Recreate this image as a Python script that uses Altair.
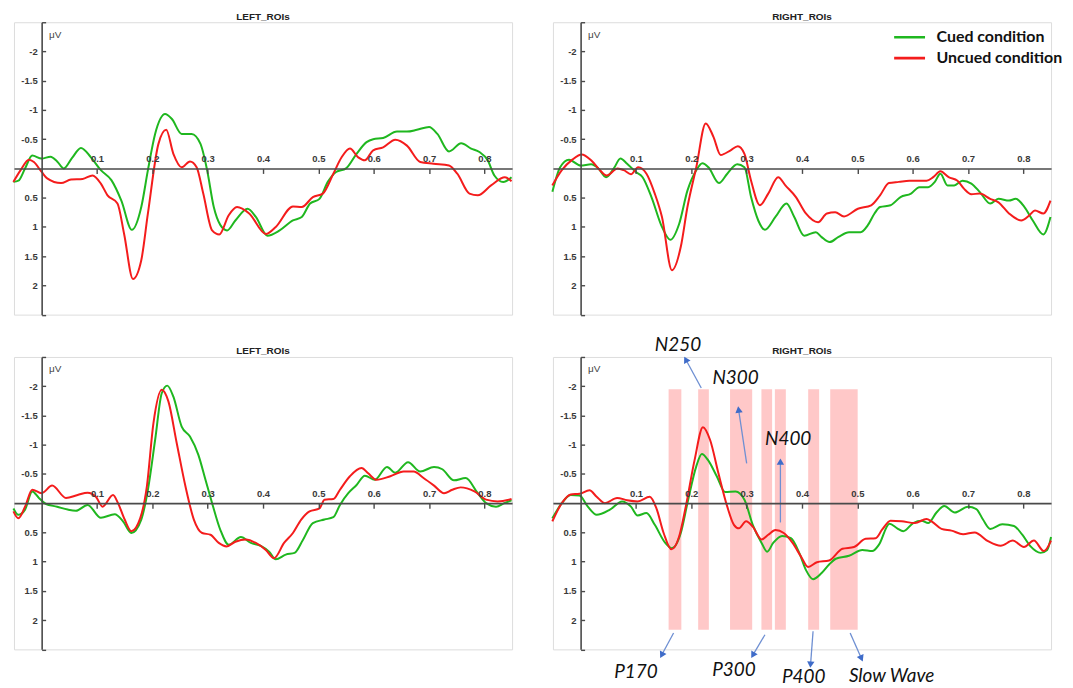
import math
import altair as alt
import pandas as pd

# ---------------------------------------------------------------- data
SERIES = ["Cued condition", "Uncued condition"]
SERIES_COLORS = ["#1FB71F", "#F41C1C"]

X_TICKS = [0.1, 0.2, 0.3, 0.4, 0.5, 0.6, 0.7, 0.8]
Y_TICKS = [-2.5, -2, -1.5, -1, -0.5, 0.5, 1, 1.5, 2, 2.5]
T_DOMAIN = [-0.05, 0.85]
V_DOMAIN = [-2.5, 2.5]

PANEL_TITLES = ["LEFT_ROIs", "RIGHT_ROIs", "LEFT_ROIs", "RIGHT_ROIs"]

# (time s, amplitude uV)
P1_CUED = [(-0.051, 0.23), (-0.042, 0.21), (-0.03, 0.0), (-0.017, -0.22), (0.0, -0.17),
           (0.016, -0.2), (0.028, -0.12), (0.04, 0.0), (0.055, -0.18), (0.071, -0.35),
           (0.089, -0.19), (0.107, 0.03), (0.126, 0.2), (0.144, 0.55), (0.163, 1.05),
           (0.18, 0.66), (0.192, 0.03), (0.205, -0.59), (0.223, -0.93), (0.235, -0.85),
           (0.253, -0.59), (0.271, -0.59), (0.287, -0.42), (0.299, 0.03), (0.311, 0.66),
           (0.323, 0.97), (0.335, 1.06), (0.35, 0.89), (0.372, 0.69), (0.387, 0.83),
           (0.408, 1.15), (0.43, 1.06), (0.454, 0.89), (0.47, 0.83), (0.485, 0.6),
           (0.502, 0.52), (0.517, 0.23), (0.532, 0.06), (0.55, 0.0), (0.569, -0.25),
           (0.587, -0.45), (0.599, -0.5), (0.617, -0.52), (0.642, -0.63), (0.66, -0.63),
           (0.678, -0.66), (0.7, -0.71), (0.715, -0.59), (0.736, -0.29), (0.758, -0.43),
           (0.776, -0.34), (0.791, -0.28), (0.806, -0.14), (0.818, 0.12), (0.834, 0.23),
           (0.849, 0.15)]
P1_UNCUED = [(-0.051, 0.23), (-0.038, 0.03), (-0.023, -0.15), (-0.014, -0.11), (0.0, 0.06),
             (0.01, 0.17), (0.035, 0.25), (0.053, 0.19), (0.074, 0.18), (0.092, 0.12),
             (0.107, 0.26), (0.119, 0.46), (0.137, 0.6), (0.149, 1.12), (0.165, 1.89),
             (0.18, 1.57), (0.192, 0.77), (0.211, -0.42), (0.225, -0.66), (0.238, -0.25),
             (0.253, -0.02), (0.268, -0.12), (0.28, -0.02), (0.292, 0.43), (0.308, 1.06),
             (0.321, 1.13), (0.338, 0.8), (0.353, 0.66), (0.375, 0.77), (0.405, 1.12),
             (0.423, 1.0), (0.454, 0.65), (0.47, 0.66), (0.49, 0.49), (0.508, 0.43),
             (0.527, 0.09), (0.542, -0.19), (0.557, -0.34), (0.572, -0.19), (0.584, -0.14),
             (0.599, -0.31), (0.617, -0.36), (0.639, -0.49), (0.66, -0.39), (0.684, -0.11),
             (0.708, -0.08), (0.736, -0.05), (0.751, 0.09), (0.773, 0.43), (0.788, 0.46),
             (0.812, 0.29), (0.837, 0.15), (0.849, 0.22)]

P2_CUED = [(-0.051, 0.40), (-0.037, -0.02), (-0.021, -0.15), (0.0, -0.05), (0.019, -0.07),
           (0.032, 0.0), (0.046, 0.15), (0.06, 0.0), (0.072, -0.17), (0.084, -0.08),
           (0.1, 0.06), (0.112, 0.15), (0.128, 0.49), (0.147, 1.0), (0.162, 1.22),
           (0.178, 0.95), (0.193, 0.38), (0.209, 0.03), (0.22, -0.09), (0.231, -0.02),
           (0.25, 0.25), (0.265, 0.09), (0.283, -0.07), (0.296, -0.02), (0.308, 0.49),
           (0.321, 0.89), (0.333, 1.05), (0.352, 0.83), (0.372, 0.6), (0.386, 0.83),
           (0.404, 1.15), (0.425, 1.09), (0.435, 1.17), (0.45, 1.26), (0.466, 1.17),
           (0.485, 1.09), (0.506, 1.09), (0.519, 0.97), (0.531, 0.77), (0.541, 0.66),
           (0.56, 0.63), (0.578, 0.49), (0.597, 0.43), (0.612, 0.32), (0.628, 0.32),
           (0.64, 0.23), (0.65, 0.09), (0.663, 0.29), (0.675, 0.29), (0.69, 0.21),
           (0.706, 0.26), (0.721, 0.4), (0.74, 0.6), (0.755, 0.52), (0.774, 0.55),
           (0.786, 0.52), (0.802, 0.66), (0.817, 0.89), (0.836, 1.13), (0.849, 0.83)]
P2_UNCUED = [(-0.051, 0.29), (-0.034, 0.03), (-0.015, -0.15), (0.002, -0.24), (0.019, -0.14),
             (0.035, 0.03), (0.047, 0.12), (0.067, 0.0), (0.078, 0.03), (0.091, 0.1),
             (0.104, -0.02), (0.119, 0.09), (0.134, 0.43), (0.147, 0.83), (0.165, 1.74),
             (0.181, 1.34), (0.193, 0.66), (0.209, -0.02), (0.226, -0.77), (0.24, -0.54),
             (0.253, -0.23), (0.271, -0.31), (0.284, -0.38), (0.296, -0.25), (0.308, 0.21),
             (0.324, 0.63), (0.339, 0.43), (0.357, 0.15), (0.37, 0.29), (0.389, 0.49),
             (0.407, 0.77), (0.429, 0.92), (0.445, 0.77), (0.46, 0.75), (0.476, 0.82),
             (0.501, 0.69), (0.525, 0.63), (0.541, 0.46), (0.557, 0.25), (0.575, 0.23),
             (0.594, 0.21), (0.625, 0.21), (0.637, 0.15), (0.65, 0.05), (0.665, 0.15),
             (0.681, 0.21), (0.693, 0.35), (0.706, 0.44), (0.721, 0.43), (0.74, 0.52),
             (0.755, 0.58), (0.774, 0.77), (0.796, 0.89), (0.811, 0.8), (0.821, 0.72),
             (0.836, 0.77), (0.849, 0.55)]

P3_CUED = [(-0.051, 0.09), (-0.042, 0.2), (-0.03, 0.11), (-0.017, -0.2), (-0.005, -0.09),
           (0.007, 0.01), (0.028, 0.06), (0.047, 0.11), (0.062, 0.13), (0.083, 0.03),
           (0.107, 0.25), (0.132, 0.19), (0.147, 0.31), (0.162, 0.51), (0.18, 0.28),
           (0.192, -0.23), (0.205, -1.08), (0.217, -1.88), (0.227, -2.01), (0.238, -1.82),
           (0.253, -1.31), (0.268, -1.14), (0.283, -0.83), (0.296, -0.4), (0.308, 0.0),
           (0.323, 0.46), (0.338, 0.71), (0.36, 0.58), (0.378, 0.68), (0.396, 0.73),
           (0.411, 0.83), (0.423, 0.96), (0.441, 0.88), (0.457, 0.85), (0.472, 0.63),
           (0.49, 0.34), (0.511, 0.28), (0.527, 0.24), (0.539, 0.03), (0.554, -0.17),
           (0.569, -0.31), (0.584, -0.47), (0.602, -0.4), (0.624, -0.62), (0.639, -0.52),
           (0.662, -0.7), (0.684, -0.54), (0.709, -0.62), (0.724, -0.58), (0.745, -0.39),
           (0.766, -0.43), (0.788, -0.17), (0.803, 0.0), (0.821, 0.06), (0.836, 0.0),
           (0.849, -0.05)]
P3_UNCUED = [(-0.051, 0.14), (-0.042, 0.26), (-0.03, 0.06), (-0.017, -0.23), (0.0, -0.17),
             (0.019, -0.3), (0.044, -0.09), (0.065, -0.14), (0.083, -0.18), (0.098, -0.11),
             (0.11, 0.06), (0.129, -0.14), (0.138, 0.0), (0.15, 0.28), (0.162, 0.48),
             (0.178, 0.26), (0.19, -0.28), (0.202, -1.37), (0.217, -1.94), (0.229, -1.74),
             (0.244, -1.03), (0.26, -0.28), (0.275, 0.28), (0.29, 0.51), (0.305, 0.54),
             (0.32, 0.68), (0.334, 0.74), (0.35, 0.66), (0.369, 0.62), (0.387, 0.68),
             (0.405, 0.8), (0.42, 0.94), (0.438, 0.68), (0.454, 0.51), (0.469, 0.28),
             (0.484, 0.14), (0.502, 0.09), (0.511, -0.06), (0.527, -0.07), (0.539, -0.23),
             (0.557, -0.46), (0.578, -0.6), (0.59, -0.51), (0.605, -0.4), (0.63, -0.46),
             (0.654, -0.54), (0.672, -0.54), (0.69, -0.43), (0.709, -0.3), (0.727, -0.17),
             (0.742, -0.23), (0.757, -0.27), (0.782, -0.2), (0.803, -0.06), (0.824, -0.03),
             (0.849, -0.07)]

P4_CUED = [(-0.051, 0.26), (-0.034, 0.0), (-0.018, -0.14), (-0.002, -0.13), (0.013, 0.06),
           (0.029, 0.2), (0.053, 0.11), (0.075, -0.03), (0.091, 0.06), (0.103, 0.21),
           (0.119, 0.17), (0.134, 0.37), (0.153, 0.68), (0.165, 0.77), (0.181, 0.51),
           (0.193, 0.0), (0.209, -0.63), (0.219, -0.84), (0.23, -0.74), (0.246, -0.46),
           (0.261, -0.19), (0.28, -0.2), (0.296, -0.06), (0.311, 0.37), (0.327, 0.68),
           (0.337, 0.83), (0.348, 0.68), (0.364, 0.56), (0.38, 0.6), (0.395, 0.85),
           (0.407, 1.14), (0.42, 1.3), (0.435, 1.2), (0.449, 1.05), (0.461, 0.95),
           (0.485, 0.90), (0.509, 0.80), (0.527, 0.82), (0.539, 0.71), (0.558, 0.35),
           (0.572, 0.43), (0.583, 0.48), (0.601, 0.34), (0.616, 0.30), (0.628, 0.34),
           (0.643, 0.16), (0.657, 0.05), (0.676, 0.16), (0.70, 0.06), (0.715, 0.10),
           (0.727, 0.28), (0.740, 0.44), (0.762, 0.36), (0.783, 0.39), (0.798, 0.54),
           (0.813, 0.74), (0.831, 0.85), (0.843, 0.80), (0.85, 0.58)]
P4_UNCUED = [(-0.051, 0.31), (-0.034, 0.0), (-0.018, -0.15), (-0.002, -0.16), (0.016, -0.22),
             (0.029, -0.11), (0.044, 0.0), (0.066, -0.09), (0.084, -0.05), (0.103, -0.03),
             (0.125, -0.11), (0.137, 0.09), (0.15, 0.51), (0.164, 0.79), (0.178, 0.57),
             (0.19, 0.06), (0.206, -0.74), (0.221, -1.3), (0.234, -1.08), (0.249, -0.51),
             (0.265, 0.06), (0.277, 0.37), (0.286, 0.43), (0.299, 0.31), (0.311, 0.4),
             (0.327, 0.62), (0.339, 0.54), (0.352, 0.46), (0.367, 0.51), (0.383, 0.68),
             (0.398, 0.91), (0.411, 1.09), (0.427, 1.01), (0.449, 0.98), (0.473, 0.78),
             (0.494, 0.75), (0.515, 0.61), (0.533, 0.60), (0.545, 0.45), (0.56, 0.30),
             (0.58, 0.31), (0.604, 0.34), (0.625, 0.27), (0.634, 0.31), (0.652, 0.44),
             (0.67, 0.47), (0.691, 0.53), (0.712, 0.50), (0.736, 0.65), (0.759, 0.73),
             (0.781, 0.64), (0.801, 0.75), (0.819, 0.64), (0.837, 0.82), (0.85, 0.64)]

# analysis windows in the bottom-right panel (s)
WIN_START = [0.159, 0.2124, 0.270, 0.3267, 0.351, 0.4112, 0.451]
WIN_END = [0.182, 0.2317, 0.310, 0.346, 0.3708, 0.431, 0.5006]
WIN_V = [-1.95, 2.165]

# component labels and their arrows (data coordinates)
COMP_LABELS = ["N250", "N300", "N400", "P170", "P300", "P400", "Slow Wave"]
COMP_T = [0.176, 0.280, 0.375, 0.100, 0.277, 0.403, 0.562]
COMP_V = [-2.71, -2.14, -1.10, 2.88, 2.85, 2.97, 2.95]
ARROW_T0 = [0.218, 0.300, 0.361, 0.168, 0.333, 0.420, 0.487]
ARROW_V0 = [-1.97, -0.68, 0.33, 2.22, 2.25, 2.19, 2.22]
ARROW_T1 = [0.187, 0.2845, 0.361, 0.1435, 0.308, 0.415, 0.510]
ARROW_V1 = [-2.51, -1.66, -0.77, 2.65, 2.65, 2.82, 2.71]

# ---------------------------------------------------------------- layout
W = 500
H = 293.5
AXIS_COLOR = "#4a4a4a"
LABEL_FONT = "Liberation Sans"
PX_T = W / (T_DOMAIN[1] - T_DOMAIN[0])
PX_V = H / (V_DOMAIN[1] - V_DOMAIN[0])
Y_AXIS_OFFSET = -(W - W * (0 - T_DOMAIN[0]) / (T_DOMAIN[1] - T_DOMAIN[0]))


def series_frame(cued, uncued):
    rows = []
    for name, pts in zip(SERIES, [cued, uncued]):
        for t, v in pts:
            rows.append({"t": t, "v": v, "cond": name})
    return pd.DataFrame(rows)


def x_enc(field="t"):
    return alt.X(
        f"{field}:Q",
        scale=alt.Scale(domain=T_DOMAIN, nice=False, zero=False),
        axis=alt.Axis(
            orient="bottom", offset=-H / 2, values=X_TICKS, title=None,
            domainColor=AXIS_COLOR, domainWidth=1.6, tickColor=AXIS_COLOR,
            tickWidth=1.4, tickSize=5, labelPadding=-11.5,
            labelBaseline="alphabetic", labelAlign="center",
            labelFont=LABEL_FONT, labelFontSize=9.5, labelFontWeight="bold",
            labelColor="#3a3a3a", labelFlush=False, labelOverlap=False,
            grid=False, zindex=1, labelExpr="'' + datum.value",
        ),
    )


def y_enc(field="v"):
    return alt.Y(
        f"{field}:Q",
        scale=alt.Scale(domain=V_DOMAIN, reverse=True, nice=False, zero=False),
        axis=alt.Axis(
            orient="right", offset=Y_AXIS_OFFSET, values=Y_TICKS,
            title="μV", titleAngle=0, titleX=7, titleY=12, titleAlign="left",
            titleBaseline="middle", titleFont=LABEL_FONT, titleFontSize=10,
            titleFontWeight="normal", titleColor="#444444",
            domainColor=AXIS_COLOR, domainWidth=1.6, tickColor=AXIS_COLOR,
            tickWidth=1.4, tickSize=4, labelPadding=-8.5, labelAlign="right",
            labelBaseline="middle", labelFont=LABEL_FONT, labelFontSize=9.5,
            labelFontWeight="bold", labelColor="#3a3a3a", labelFlush=False,
            labelOverlap=False, grid=False, zindex=1,
            labelExpr="abs(datum.value) == 2.5 ? '' : '' + datum.value",
        ),
    )


LEGEND = alt.Legend(
    title=None, orient="none", legendX=882, legendY=8,
    symbolType="stroke", symbolSize=961, symbolStrokeWidth=2.6, clipHeight=14,
    labelFont="Lato", labelFontSize=16, labelFontWeight="bold",
    labelColor="#111111", labelOffset=10, rowPadding=5,
)


def lines(cued, uncued):
    return alt.Chart(series_frame(cued, uncued)).mark_line(
        strokeWidth=2, interpolate="monotone"
    ).encode(
        x=x_enc(), y=y_enc(),
        color=alt.Color("cond:N", scale=alt.Scale(domain=SERIES, range=SERIES_COLORS),
                        legend=LEGEND),
    )


def panel(title, cued, uncued, extra=None, title_offset=-4.5):
    layers = []
    if extra is not None:
        layers.append(extra[0])
    layers.append(lines(cued, uncued))
    if extra is not None:
        layers.extend(extra[1:])
    return alt.layer(*layers).properties(
        width=W, height=H,
        title=alt.TitleParams(title, font=LABEL_FONT, fontSize=10, fontWeight="bold",
                              color="#222222", offset=title_offset, anchor="middle",
                              frame="group"),
    )


# annotation layers for the bottom-right panel
win_df = pd.DataFrame({"t0": WIN_START, "t1": WIN_END,
                       "v0": [WIN_V[0]] * len(WIN_START), "v1": [WIN_V[1]] * len(WIN_START)})
rects = alt.Chart(win_df).mark_rect(color="#FFC8C8").encode(
    x=x_enc("t0"), x2="t1", y=y_enc("v0"), y2="v1")

arrow_rows = []
for t0, v0, t1, v1 in zip(ARROW_T0, ARROW_V0, ARROW_T1, ARROW_V1):
    dx = (t1 - t0) * PX_T
    dy = (v1 - v0) * PX_V
    L = math.hypot(dx, dy)
    back = 3.5 / L
    hx = t1 - (t1 - t0) * back
    hy = v1 - (v1 - v0) * back
    ang = math.degrees(math.atan2(dx, -dy)) % 360
    arrow_rows.append({"t0": t0, "v0": v0, "t1": hx, "v1": hy, "ang": ang})
arrow_df = pd.DataFrame(arrow_rows)

arrow_lines = alt.Chart(arrow_df).mark_rule(color="#6E8FD2", strokeWidth=1.3).encode(
    x=x_enc("t0"), x2="t1", y=y_enc("v0"), y2="v1")
arrow_heads = alt.Chart(arrow_df).mark_point(
    shape="triangle-up", filled=True, size=55, color="#3F6CC9", opacity=1
).encode(x=x_enc("t1"), y=y_enc("v1"), angle=alt.Angle("ang:Q", scale=None))

label_df = pd.DataFrame({"t": COMP_T, "v": COMP_V, "label": COMP_LABELS})
labels = alt.Chart(label_df).mark_text(
    font="Lato", fontStyle="italic", fontSize=19, color="#111111",
    align="center", baseline="middle"
).encode(x=x_enc(), y=y_enc(), text="label:N")

p1 = panel(PANEL_TITLES[0], P1_CUED, P1_UNCUED)
p2 = panel(PANEL_TITLES[1], P2_CUED, P2_UNCUED)
p3 = panel(PANEL_TITLES[2], P3_CUED, P3_UNCUED)
p4 = panel(PANEL_TITLES[3], P4_CUED, P4_UNCUED,
           extra=[rects, arrow_lines, arrow_heads, labels], title_offset=-20.5)

chart = alt.concat(
    p1, p2, p3, p4, columns=2, spacing={"row": 42, "column": 41}, bounds="flush"
).properties(
    padding={"left": 0, "top": 2, "right": 2, "bottom": 0}
).configure_view(stroke=None).configure(background="white")

chart.save("out.html", embed_options={"renderer": "svg", "actions": False})
